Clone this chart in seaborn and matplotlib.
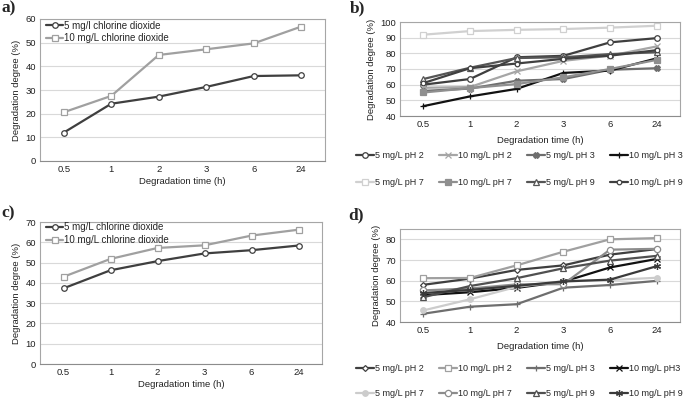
import matplotlib
matplotlib.use("Agg")
import matplotlib.pyplot as plt
import seaborn as sns
import pandas as pd

sns.set_style("white")
plt.rcParams['font.family'] = ['Liberation Sans', 'DejaVu Sans']

times = ["0.5", "1", "2", "3", "6", "24"]

# Panel a
a_labels = ["5 mg/l chlorine dioxide", "10 mg/L chlorine dioxide"]
a_5 = [12.0, 24.2, 27.2, 31.3, 35.9, 36.2]
a_10 = [20.6, 27.5, 44.8, 47.2, 49.7, 56.8]

# Panel c
c_labels = ["5 mg/L chlorine dioxide", "10 mg/L chlorine dioxide"]
c_5 = [37.3, 46.2, 50.7, 54.5, 56.1, 58.4]
c_10 = [43.0, 51.8, 57.2, 58.5, 63.3, 66.2]

# Panel b
b_labels = ["5 mg/L pH 2", "10 mg/L pH 2", "5 mg/L pH 3", "10 mg/L pH 3",
            "5 mg/L pH 7", "10 mg/L pH 7", "5 mg/L pH 9", "10 mg/L pH 9"]
b_5ph2 = [60.0, 63.6, 77.5, 78.4, 87.0, 89.7]
b_10ph2 = [58.0, 58.5, 68.5, 75.2, 78.5, 84.4]
b_5ph3 = [56.0, 57.5, 62.5, 63.6, 69.5, 70.5]
b_10ph3 = [46.3, 52.5, 57.3, 67.5, 69.0, 76.8]
b_5ph7 = [91.9, 94.2, 95.0, 95.5, 96.4, 97.6]
b_10ph7 = [55.0, 57.8, 60.4, 64.7, 70.0, 75.8]
b_5ph9 = [63.6, 70.8, 77.0, 77.5, 79.5, 80.7]
b_10ph9 = [61.0, 70.5, 73.5, 76.5, 78.5, 82.0]

# Panel d
d_labels = ["5 mg/L pH 2", "10 mg/L pH 2", "5 mg/L pH 3", "10 mg/L pH3",
            "5 mg/L pH 7", "10 mg/L pH 7", "5 mg/L pH 9", "10 mg/L pH 9"]
d_5ph2 = [58.0, 61.0, 65.2, 67.4, 72.6, 75.3]
d_10ph2 = [61.2, 61.3, 67.4, 74.0, 80.0, 80.6]
d_5ph3 = [44.0, 47.4, 48.6, 56.6, 57.9, 59.9]
d_10ph3 = [53.0, 54.4, 56.5, 59.5, 66.4, 70.5]
d_5ph7 = [45.6, 51.0, 57.0, 59.8, 60.3, 61.4]
d_10ph7 = [55.3, 56.2, 58.2, 58.3, 75.0, 75.4]
d_5ph9 = [52.0, 57.4, 61.2, 66.0, 69.7, 72.0]
d_10ph9 = [54.0, 55.5, 57.5, 59.6, 60.5, 67.0]

W, H = 685, 399
fig = plt.figure(figsize=(W / 100, H / 100), dpi=100)

def rect(l, t, r, b):
    return [l / W, 1 - b / H, (r - l) / W, (b - t) / H]

TICK = 6.8
LAB = 6.8

def style_ax(ax, ylim, yticks):
    ax.set_ylim(*ylim)
    ax.set_yticks(yticks)
    ax.set_xlim(-0.5, len(times) - 0.5)
    ax.grid(axis='y', color='#d9d9d9', lw=0.8)
    ax.set_axisbelow(True)
    for s in ax.spines.values():
        s.set_color('#a6a6a6')
        s.set_linewidth(0.8)
    ax.spines['bottom'].set_color('#8c8c8c')
    ax.tick_params(axis='both', labelsize=TICK, length=0, pad=3, colors='#222222')
    ax.set_xlabel("Degradation time (h)", fontsize=LAB, labelpad=2, color='#222222')
    ax.set_ylabel("Degradation degree (%)", fontsize=LAB, labelpad=3, color='#222222')

def draw(ax, ys, specs):
    handles = []
    for y, (lab, col, mk, mfc, ms) in zip(ys, specs):
        df = pd.DataFrame({"t": times, "v": y})
        sns.lineplot(data=df, x="t", y="v", ax=ax, color=col, marker=mk,
                     markersize=ms, markerfacecolor=(col if mfc is None else mfc),
                     markeredgecolor=col, markeredgewidth=0.9, lw=1.6,
                     label=lab, legend=False)
        handles.append(ax.lines[-1])
    return handles

# ---- a ----
axa = fig.add_axes(rect(40, 19, 325, 161))
ha = draw(axa, [a_5, a_10], [(a_labels[0], '#3f3f3f', 'o', 'white', 4),
                             (a_labels[1], '#a0a0a0', 's', 'white', 4)])
style_ax(axa, (0, 60), range(0, 61, 10))
axa.legend(handles=ha, loc='upper left', bbox_to_anchor=(0.0, 1.03), frameon=False,
           fontsize=TICK + 0.2, handlelength=1.8, handletextpad=0.1, labelspacing=0.3,
           borderaxespad=0.2)

# ---- c ----
axc = fig.add_axes(rect(40, 222, 322, 364))
hc = draw(axc, [c_5, c_10], [(c_labels[0], '#3f3f3f', 'o', 'white', 4),
                             (c_labels[1], '#a0a0a0', 's', 'white', 4)])
style_ax(axc, (0, 70), range(0, 71, 10))
axc.legend(handles=hc, loc='upper left', bbox_to_anchor=(0.0, 1.04), frameon=False,
           fontsize=TICK + 0.2, handlelength=1.8, handletextpad=0.1, labelspacing=0.3,
           borderaxespad=0.2)

def legend_below(ax, handles, y, spacing):
    order = [0, 4, 1, 5, 2, 6, 3, 7]
    hs = [handles[i] for i in order]
    fig.legend(handles=hs, labels=[h.get_label() for h in hs], ncol=4,
               loc='center', bbox_to_anchor=(519 / W, 1 - y / H), frameon=False,
               fontsize=TICK - 0.3, handlelength=2.0, handletextpad=0.1,
               columnspacing=1.7, labelspacing=spacing)

# ---- b ----
axb = fig.add_axes(rect(400, 22, 680, 116))
b_specs = [
    (b_labels[0], '#3f3f3f', 'o', 'white', 4),
    (b_labels[1], '#a6a6a6', 'x', None, 4),
    (b_labels[2], '#6e6e6e', 'X', None, 4),
    (b_labels[3], '#111111', '+', None, 5),
    (b_labels[4], '#d0d0d0', 's', 'white', 4),
    (b_labels[5], '#8f8f8f', 's', None, 4),
    (b_labels[6], '#555555', '^', 'white', 4),
    (b_labels[7], '#404040', 'o', 'white', 3.3),
]
hb = draw(axb, [b_5ph2, b_10ph2, b_5ph3, b_10ph3, b_5ph7, b_10ph7, b_5ph9, b_10ph9], b_specs)
style_ax(axb, (40, 100), range(40, 101, 10))
axb.xaxis.labelpad = 5
legend_below(axb, hb, 169, 2.0)

# ---- d ----
axd = fig.add_axes(rect(400, 229, 680, 322))
d_specs = [
    (d_labels[0], '#3f3f3f', 'D', 'white', 3),
    (d_labels[1], '#a0a0a0', 's', 'white', 4),
    (d_labels[2], '#6e6e6e', '+', None, 5),
    (d_labels[3], '#111111', 'x', None, 4),
    (d_labels[4], '#cccccc', 'o', None, 4),
    (d_labels[5], '#8c8c8c', 'o', 'white', 4.5),
    (d_labels[6], '#505050', '^', 'white', 4),
    (d_labels[7], '#3a3a3a', (6, 2, 0), None, 5),
]
hd = draw(axd, [d_5ph2, d_10ph2, d_5ph3, d_10ph3, d_5ph7, d_10ph7, d_5ph9, d_10ph9], d_specs)
style_ax(axd, (40, 85), range(40, 81, 10))
axd.xaxis.labelpad = 5
legend_below(axd, hd, 381, 1.75)

# panel letters
for txt, x, y in [("a)", 1, 8), ("b)", 350, 8), ("c)", 1, 213), ("d)", 348, 215)]:
    fig.text(x / W, 1 - y / H, txt, fontsize=12.5, fontweight='bold',
             family=['Liberation Serif', 'DejaVu Serif'], va='center', ha='left')

fig.savefig("out.png", dpi=100)
